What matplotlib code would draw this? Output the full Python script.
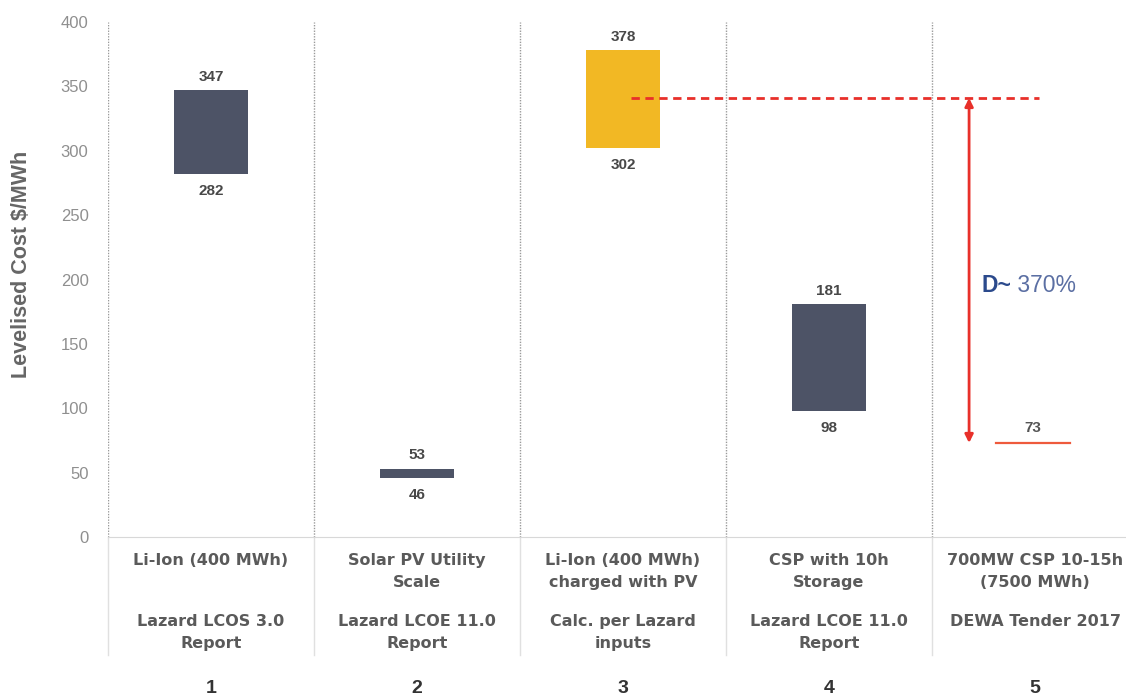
import matplotlib.pyplot as plt

plt.rcParams['font.family'] = ['Liberation Sans', 'DejaVu Sans']

# data
positions = [1, 2, 3, 4, 5]
low = [282, 46, 302, 98]
high = [347, 53, 378, 181]
bar_colors = ['#4d5366', '#4d5366', '#f2b824', '#4d5366']
tech_labels = ['Li-Ion (400 MWh)', 'Solar PV Utility\nScale', 'Li-Ion (400 MWh)\ncharged with PV',
               'CSP with 10h\nStorage', '700MW CSP 10-15h\n(7500 MWh)']
source_labels = ['Lazard LCOS 3.0\nReport', 'Lazard LCOE 11.0\nReport', 'Calc. per Lazard\ninputs',
                 'Lazard LCOE 11.0\nReport', 'DEWA Tender 2017']
number_labels = ['1', '2', '3', '4', '5']
dewa_price = 73
ref_level = 341
delta_text = '370%'
yticks = [0, 50, 100, 150, 200, 250, 300, 350, 400]

red = '#e8302a'
grey_txt = '#8f8f8f'

fig = plt.figure(figsize=(11.26, 6.98), dpi=100)
ax = fig.add_axes([108 / 1126, 161 / 698, 1030 / 1126, 515 / 698])
ax.set_xlim(0.5, 5.5)
ax.set_ylim(0, 400)

# floating bars
for p, lo, hi, c in zip(positions, low, high, bar_colors):
    ax.bar(p, hi - lo, bottom=lo, width=0.355, color=c, zorder=3)
    ax.text(p, hi + 5, str(hi), ha='center', va='bottom', fontsize=11,
            fontweight='bold', color='#484848')
    ax.text(p, lo - 8, str(lo), ha='center', va='top', fontsize=11,
            fontweight='bold', color='#484848')

# DEWA tender price
ax.plot([4.81, 5.17], [dewa_price, dewa_price], color='#ee5a3c', lw=1.6, zorder=3)
ax.text(4.99, dewa_price + 6, str(dewa_price), ha='center', va='bottom', fontsize=11,
        fontweight='bold', color='#555555')

# reference dashed line and arrow
ax.plot([3.04, 5.02], [ref_level, ref_level], color=red, lw=2,
        linestyle=(0, (3, 2)), zorder=4)
ax.annotate('', xy=(4.68, dewa_price), xytext=(4.68, ref_level),
            arrowprops=dict(arrowstyle='<|-|>', color=red, lw=2,
                            mutation_scale=12, shrinkA=0, shrinkB=0), zorder=4)
t1 = ax.text(4.74, 195, 'D~', ha='left', va='center', fontsize=16.5,
             fontweight='bold', color='#2b4a8c')
ax.annotate(' ' + delta_text, xy=(1, 0.5), xycoords=t1, ha='left', va='center',
            fontsize=16.5, color='#5b6fa3')

# separators
for xs in [0.5, 1.5, 2.5, 3.5, 4.5]:
    ax.axvline(xs, color='#9a9a9a', lw=1, linestyle=(0, (1, 1)), zorder=1)
trans = ax.get_xaxis_transform()
for xs in [0.5, 1.5, 2.5, 3.5, 4.5]:
    ax.plot([xs, xs], [0, -0.229], transform=trans, color='#e0e0e0', lw=1, clip_on=False)

# category labels
for p, t, s, n in zip(positions, tech_labels, source_labels, number_labels):
    ax.text(p, -0.032, t, transform=trans, ha='center', va='top', fontsize=11.5,
            fontweight='bold', color='#5a5a5a', linespacing=1.55, family='DejaVu Sans')
    ax.text(p, -0.150, s, transform=trans, ha='center', va='top', fontsize=11.5,
            fontweight='bold', color='#5a5a5a', linespacing=1.55, family='DejaVu Sans')
    ax.text(p, -0.295, n, transform=trans, ha='center', va='center', fontsize=14,
            fontweight='bold', color='#333333')

# axes styling
for side in ['top', 'right', 'left']:
    ax.spines[side].set_visible(False)
ax.spines['bottom'].set_color('#d8d8d8')
ax.set_xticks([])
ax.set_yticks(yticks)
ax.tick_params(axis='y', length=0, pad=14, labelsize=12, labelcolor=grey_txt)
ax.set_ylabel('Levelised Cost $/MWh', fontsize=15.5, fontweight='bold', color='#666666')
ax.yaxis.set_label_coords(-0.074, 0.53)

fig.savefig('out.png', dpi=100)
